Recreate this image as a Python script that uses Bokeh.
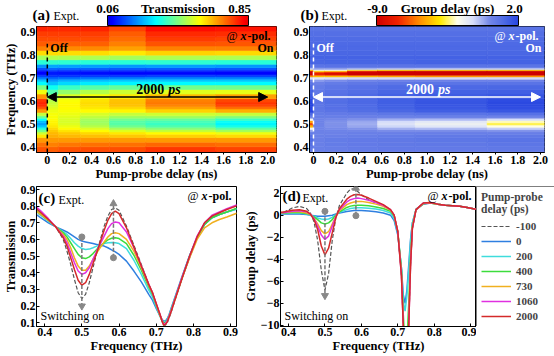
import numpy as np
from bokeh.plotting import figure
from bokeh.models import (ColumnDataSource, LinearColorMapper, Label, Arrow,
                          NormalHead, FixedTicker, Legend, LegendItem, Range1d)
from bokeh.layouts import column, row
from bokeh.embed import file_html
from bokeh.resources import INLINE

# ---------------- data ----------------
FREQ = [0.37, 0.39, 0.41, 0.43, 0.45, 0.46, 0.47, 0.48, 0.49, 0.50, 0.51, 0.52, 0.53, 0.54,
        0.56, 0.57, 0.58, 0.59, 0.60, 0.62, 0.64, 0.66, 0.68, 0.69, 0.70, 0.71, 0.715, 0.72,
        0.725, 0.73, 0.735, 0.74, 0.75, 0.77, 0.79, 0.81, 0.83, 0.85, 0.87, 0.89, 0.92]

DELAYS_PS = [-100, 0, 200, 400, 730, 1060, 2000]
DELAY_LABELS = ["-100", "0", "200", "400", "730", "1060", "2000"]

# Transmission spectra (panel c / heatmap a)
T_M100 = [0.77, 0.745, 0.715, 0.675, 0.60, 0.53, 0.45, 0.36, 0.28, 0.245, 0.27, 0.34, 0.43, 0.52,
          0.68, 0.74, 0.78, 0.79, 0.775, 0.68, 0.565, 0.45, 0.33, 0.28, 0.21, 0.15, 0.11, 0.085,
          0.085, 0.10, 0.13, 0.16, 0.23, 0.37, 0.49, 0.61, 0.70, 0.735, 0.75, 0.765, 0.79]
T_0 = [0.76, 0.73, 0.70, 0.675, 0.655, 0.645, 0.63, 0.615, 0.60, 0.59, 0.585, 0.58, 0.575, 0.57,
       0.56, 0.55, 0.537, 0.525, 0.51, 0.47, 0.41, 0.345, 0.27, 0.235, 0.185, 0.14, 0.12, 0.11,
       0.11, 0.125, 0.15, 0.185, 0.25, 0.38, 0.505, 0.61, 0.69, 0.73, 0.75, 0.765, 0.785]
T_200 = [0.78, 0.745, 0.71, 0.675, 0.645, 0.63, 0.605, 0.58, 0.56, 0.545, 0.54, 0.542, 0.55, 0.56,
         0.575, 0.58, 0.582, 0.58, 0.575, 0.545, 0.475, 0.39, 0.295, 0.255, 0.195, 0.14, 0.12, 0.105,
         0.105, 0.12, 0.145, 0.18, 0.245, 0.375, 0.50, 0.61, 0.69, 0.73, 0.75, 0.765, 0.785]
T_400 = [0.79, 0.75, 0.715, 0.675, 0.64, 0.615, 0.58, 0.545, 0.51, 0.49, 0.485, 0.495, 0.515, 0.54,
         0.58, 0.597, 0.607, 0.61, 0.605, 0.575, 0.505, 0.415, 0.315, 0.27, 0.205, 0.145, 0.12, 0.10,
         0.10, 0.115, 0.14, 0.175, 0.24, 0.37, 0.50, 0.61, 0.69, 0.73, 0.75, 0.765, 0.79]
T_730 = [0.78, 0.75, 0.715, 0.675, 0.63, 0.60, 0.55, 0.49, 0.44, 0.415, 0.415, 0.44, 0.48, 0.52,
         0.585, 0.615, 0.635, 0.64, 0.635, 0.60, 0.53, 0.43, 0.325, 0.28, 0.21, 0.145, 0.115, 0.09,
         0.095, 0.11, 0.14, 0.17, 0.235, 0.37, 0.49, 0.60, 0.67, 0.70, 0.72, 0.735, 0.76]
T_1060 = [0.81, 0.77, 0.725, 0.675, 0.62, 0.58, 0.52, 0.46, 0.41, 0.39, 0.40, 0.43, 0.48, 0.53,
          0.62, 0.665, 0.695, 0.705, 0.70, 0.645, 0.55, 0.44, 0.33, 0.28, 0.215, 0.15, 0.12, 0.09,
          0.095, 0.11, 0.14, 0.17, 0.24, 0.375, 0.50, 0.62, 0.70, 0.745, 0.765, 0.785, 0.81]
T_2000 = [0.80, 0.76, 0.72, 0.675, 0.61, 0.56, 0.49, 0.42, 0.355, 0.325, 0.34, 0.39, 0.455, 0.52,
          0.655, 0.715, 0.755, 0.77, 0.755, 0.67, 0.555, 0.44, 0.33, 0.28, 0.215, 0.15, 0.115, 0.085,
          0.09, 0.105, 0.135, 0.165, 0.235, 0.37, 0.50, 0.615, 0.70, 0.74, 0.76, 0.78, 0.805]

# Group delay spectra (panel d / heatmap b), ps
GD_M100 = [0.2, 0.3, 0.65, 0.8, 0.6, 0.2, -0.6, -2.3, -5.0, -6.8, -5.3, -2.3, -0.2, 0.9,
           2.0, 2.35, 2.4, 2.15, 1.85, 1.4, 1.1, 0.85, 0.45, 0.0, -1.5, -5.5, -10.0, -14.0,
           -14.0, -10.0, -4.5, -1.2, 0.5, 1.1, 1.15, 1.0, 0.9, 0.85, 0.8, 0.7, 0.5]
GD_0 = [0.1, 0.1, 0.1, 0.1, 0.05, 0.0, -0.05, -0.1, -0.1, -0.1, -0.05, 0.0, 0.1, 0.2,
        0.33, 0.38, 0.42, 0.43, 0.42, 0.38, 0.3, 0.2, 0.0, -0.5, -1.8, -4.8, -7.2, -8.0,
        -6.8, -4.5, -2.2, -0.7, 0.5, 1.0, 1.1, 1.0, 0.9, 0.85, 0.8, 0.7, 0.5]
GD_200 = [0.15, 0.15, 0.2, 0.2, 0.1, 0.0, -0.1, -0.25, -0.35, -0.4, -0.35, -0.2, 0.05, 0.25,
          0.5, 0.6, 0.65, 0.67, 0.67, 0.62, 0.55, 0.42, 0.2, -0.3, -1.6, -4.8, -7.8, -8.7,
          -7.3, -5.0, -2.4, -0.7, 0.55, 1.05, 1.1, 1.0, 0.9, 0.85, 0.8, 0.7, 0.5]
GD_400 = [0.15, 0.2, 0.25, 0.25, 0.15, 0.05, -0.15, -0.4, -0.7, -0.8, -0.7, -0.4, 0.0, 0.3,
          0.7, 0.82, 0.88, 0.9, 0.9, 0.85, 0.75, 0.6, 0.35, -0.1, -1.5, -5.0, -9.0, -12.0,
          -11.5, -8.0, -3.8, -1.0, 0.5, 1.05, 1.1, 1.0, 0.9, 0.85, 0.8, 0.7, 0.5]
GD_730 = [0.2, 0.25, 0.3, 0.3, 0.2, 0.05, -0.3, -0.8, -1.4, -1.7, -1.5, -0.8, -0.1, 0.4,
          0.95, 1.1, 1.2, 1.25, 1.25, 1.15, 1.0, 0.8, 0.45, 0.0, -1.5, -5.3, -9.8, -13.5,
          -13.5, -9.5, -4.3, -1.1, 0.5, 1.05, 1.1, 1.0, 0.9, 0.85, 0.8, 0.7, 0.5]
GD_1060 = [0.2, 0.25, 0.35, 0.4, 0.3, 0.1, -0.3, -1.0, -1.8, -2.2, -1.9, -1.0, -0.1, 0.5,
           1.2, 1.4, 1.5, 1.55, 1.5, 1.35, 1.15, 0.9, 0.5, 0.0, -1.5, -5.5, -10.0, -14.0,
           -14.0, -10.0, -4.5, -1.2, 0.5, 1.1, 1.15, 1.0, 0.9, 0.85, 0.8, 0.7, 0.5]
GD_2000 = [0.2, 0.3, 0.45, 0.5, 0.35, 0.1, -0.4, -1.3, -2.8, -3.6, -3.0, -1.6, -0.2, 0.6,
           1.45, 1.7, 1.85, 1.87, 1.8, 1.55, 1.25, 0.95, 0.5, 0.0, -1.5, -5.5, -10.0, -14.0,
           -14.0, -10.0, -4.5, -1.2, 0.5, 1.1, 1.15, 1.0, 0.9, 0.85, 0.8, 0.7, 0.5]

T_SERIES = [T_M100, T_0, T_200, T_400, T_730, T_1060, T_2000]
GD_SERIES = [GD_M100, GD_0, GD_200, GD_400, GD_730, GD_1060, GD_2000]

# switching-on markers
SWITCH_F = [0.50, 0.585]
C_FROM = [0.615, 0.49]
C_TO = [0.20, 0.815]
D_FROM = [0.35, -0.05]
D_TO = [-7.3, 2.45]

DELAY_TICKS = [0, 0.2, 0.4, 0.6, 0.8, 1.0, 1.2, 1.4, 1.6, 1.8, 2.0]
DELAY_TICK_LABELS = ["0", "0.2", "0.4", "0.6", "0.8", "1.0", "1.2", "1.4", "1.6", "1.8", "2.0"]
FREQ_TICKS = [0.4, 0.5, 0.6, 0.7, 0.8, 0.9]
T_TICKS = [0.1, 0.2, 0.3, 0.4, 0.5, 0.6, 0.7, 0.8, 0.9]
GD_TICKS = [2, 0, -2, -4, -6, -8, -10]
T_LIMITS = [0.06, 0.85]
GD_LIMITS = [-9.0, 2.0]

# ---------------- styles ----------------
SERIF = "Liberation Serif"
LINE_COLORS = ["#555555", "#2f7fe0", "#3fdcdc", "#3cdc3c", "#f0b020", "#e030e0", "#d42a2a"]


def jet_palette(n=256, lo=0.1, hi=0.9):
    out = []
    for i in range(n):
        t = lo + (hi - lo) * i / (n - 1)
        r = min(max(1.5 - abs(4 * t - 3), 0), 1)
        g = min(max(1.5 - abs(4 * t - 2), 0), 1)
        b = min(max(1.5 - abs(4 * t - 1), 0), 1)
        out.append("#%02x%02x%02x" % (int(r * 255), int(g * 255), int(b * 255)))
    return out


def anchor_palette(anchors, n=256):
    ts = [a[0] for a in anchors]
    out = []
    for i in range(n):
        t = i / (n - 1)
        rgb = [np.interp(t, ts, [a[1][k] for a in anchors]) for k in range(3)]
        out.append("#%02x%02x%02x" % tuple(int(round(c)) for c in rgb))
    return out


JET = jet_palette()
GD_PAL = anchor_palette([(0.0, (205, 0, 0)), (0.15, (240, 35, 0)), (0.3, (255, 140, 0)),
                         (0.45, (255, 235, 0)), (0.57, (255, 255, 235)), (0.68, (215, 222, 250)),
                         (0.80, (115, 135, 232)), (0.92, (70, 100, 228)), (1.0, (40, 70, 225))])

FY = (0.375, 0.925)  # heatmap frequency window
HEAD_H, HEAT_H, LINE_H = 26, 157, 173


def fig(**kw):
    return figure(output_backend="svg", toolbar_location=None, title=None, **kw)


def heat_source(series, delays_ps, freqs):
    d = [x / 1000.0 for x in delays_ps]
    d_edges = [d[0] - 0.3, d[1]] + [(d[k] + d[k + 1]) / 2 for k in range(1, len(d) - 1)] + [d[-1] + 0.3]
    f_edges = [freqs[0] - 0.005] + [(freqs[i] + freqs[i + 1]) / 2 for i in range(len(freqs) - 1)] + [FY[1]]
    l, r, b, t, v = [], [], [], [], []
    for j, s in enumerate(series):
        for i, val in enumerate(s):
            l.append(d_edges[j]); r.append(d_edges[j + 1])
            b.append(f_edges[i]); t.append(f_edges[i + 1]); v.append(val)
    return ColumnDataSource(dict(left=l, right=r, bottom=b, top=t, v=v))


def style_axes(p, tick_in=0, tick_out=3):
    for ax in p.axis:
        ax.major_label_text_font = SERIF
        ax.major_label_text_font_style = "bold"
        ax.major_label_text_font_size = "12px"
        ax.major_label_text_color = "black"
        ax.axis_label_text_font = SERIF
        ax.axis_label_text_font_style = "bold"
        ax.axis_label_text_font_size = "12.5px"
        ax.axis_label_text_color = "black"
        ax.axis_label_standoff = 0
        ax.major_label_standoff = 1
        ax.major_tick_in = tick_in
        ax.major_tick_out = tick_out
        ax.minor_tick_line_color = None
        ax.axis_line_color = "black"
        ax.major_tick_line_color = "black"
    p.outline_line_color = "black"
    p.outline_line_width = 1
    p.xgrid.visible = False
    p.ygrid.visible = False


def lab(p, x, y, text, size="12px", style="normal", color="black", align="left", xoff=0, yoff=0):
    # all texts are placed by their vertical middle
    p.add_layout(Label(x=x, y=y, text=text, text_font=SERIF, x_offset=xoff, y_offset=yoff,
                       text_font_size=size, text_font_style=style, text_color=color,
                       text_align=align, text_baseline="middle"))


def xpol(p, x, y, color, xoff, yoff):
    lab(p, x, y, "-pol.", style="bold", color=color, align="right", xoff=xoff, yoff=yoff)
    lab(p, x, y, "x", style="bold italic", color=color, align="right", xoff=xoff - 24, yoff=yoff)
    lab(p, x, y, "@", style="normal", color=color, align="right", xoff=xoff - 33, yoff=yoff)


def header(mapper, tag, tag_x, bar_x, bar_w, lo_x, lo_txt, title_txt, hi_x, hi_txt):
    # header strip: x in pixels from left, y in pixels from bottom
    h = fig(width=277, height=HEAD_H, x_range=Range1d(0, 277), y_range=Range1d(0, HEAD_H),
            x_axis_location=None, y_axis_location=None,
            min_border_left=0, min_border_right=0, min_border_top=0, min_border_bottom=0)
    h.outline_line_color = None
    h.xgrid.visible = False
    h.ygrid.visible = False
    grad = np.linspace(mapper.low, mapper.high, 256).reshape(1, 256)
    h.image(image=[grad], x=bar_x, y=1, dw=bar_w, dh=10, color_mapper=mapper)
    h.quad(left=[bar_x], right=[bar_x + bar_w], bottom=[1], top=[11], fill_color=None,
           line_color="black", line_width=1)
    lab(h, tag_x, 12, tag, size="15px", style="bold")
    lab(h, tag_x + 21, 11, "Expt.", size="12px")
    lab(h, lo_x, 18, lo_txt, size="13px", style="bold", align="center")
    lab(h, bar_x + bar_w / 2, 18, title_txt, size="13px", style="bold", align="center")
    lab(h, hi_x, 18, hi_txt, size="13px", style="bold", align="center")
    return h


def heat_panel(series, mapper, xr, left_border, right_border, ylabel, fg):
    p = fig(width=277, height=HEAT_H, x_range=Range1d(*xr), y_range=Range1d(*FY),
            min_border_left=left_border, min_border_right=right_border,
            min_border_top=0, min_border_bottom=30)
    src = heat_source(series, DELAYS_PS, FREQ)
    p.quad(left="left", right="right", bottom="bottom", top="top", source=src,
           fill_color={"field": "v", "transform": mapper},
           line_color={"field": "v", "transform": mapper}, line_width=0.6)
    p.xaxis.axis_label = "Pump-probe delay (ns)"
    if ylabel:
        p.yaxis.axis_label = ylabel
    p.xaxis.ticker = FixedTicker(ticks=DELAY_TICKS)
    p.xaxis.major_label_overrides = {t: s for t, s in zip(DELAY_TICKS, DELAY_TICK_LABELS)}
    p.yaxis.ticker = FixedTicker(ticks=FREQ_TICKS)
    style_axes(p, tick_in=0, tick_out=2)
    p.yaxis.major_tick_out = 0
    # dashed start line, labels, arrow
    p.segment(x0=[DELAY_TICKS[0]], y0=[FY[0]], x1=[DELAY_TICKS[0]], y1=[0.85],
              line_color=fg, line_dash="4 3", line_width=1.5)
    lab(p, DELAY_TICKS[0], 0.83, "Off", style="bold", color=fg, xoff=3)
    lab(p, xr[1], 0.83, "On", style="bold", color=fg, align="right", xoff=-3)
    p.add_layout(Arrow(x_start=DELAY_TICKS[0], y_start=0.617, x_end=DELAY_TICKS[-1], y_end=0.617,
                       start=NormalHead(size=9, fill_color=fg, line_color=fg),
                       end=NormalHead(size=9, fill_color=fg, line_color=fg),
                       line_color=fg, line_width=1.5))
    lab(p, 1.07, 0.652, "2000", size="14px", style="bold", color=fg, align="right", xoff=-1)
    lab(p, 1.07, 0.652, "ps", size="14px", style="bold italic", color=fg, align="left", xoff=3)
    xpol(p, xr[1], FY[1], fg, -6, -9)
    return p


mapper_t = LinearColorMapper(palette=JET, low=T_LIMITS[0], high=T_LIMITS[1])
mapper_g = LinearColorMapper(palette=GD_PAL, low=GD_LIMITS[0], high=GD_LIMITS[1])

ha = header(mapper_t, "(a)", 32, 107, 141, 107, "0.06", "Transmission", 239, "0.85")
hb = header(mapper_g, "(b)", 23, 99, 142, 100, "-9.0", "Group delay (ps)", 237, "2.0")

pa = heat_panel(T_SERIES, mapper_t, (-0.098, 2.08), 32, 1, "Frequency (THz)", "black")
pb = heat_panel(GD_SERIES, mapper_g, (-0.035, 2.035), 32, 10, None, "white")


def line_panel(series, width, left_border, right_border, yr, yticks, ylabel, mark_from, mark_to,
               tag, tag_dy):
    xr = (0.378, 0.916)
    p = fig(width=width, height=LINE_H, x_range=Range1d(*xr), y_range=Range1d(*yr),
            min_border_left=left_border, min_border_right=right_border,
            min_border_top=3, min_border_bottom=30)
    for k, s in enumerate(series):
        if k == 0:
            p.line(FREQ, s, line_color=LINE_COLORS[k], line_width=1.2, line_dash="4 2")
        else:
            p.line(FREQ, s, line_color=LINE_COLORS[k], line_width=1.5)
    p.segment(x0=SWITCH_F, y0=mark_from, x1=SWITCH_F, y1=mark_to, line_color="#777777",
              line_dash="4 2", line_width=1.5)
    p.scatter(SWITCH_F, mark_from, marker="circle", size=6, color="#888888")
    msrc = ColumnDataSource(dict(x=SWITCH_F, y=mark_to, m=["inverted_triangle", "triangle"]))
    p.scatter("x", "y", marker="m", size=7, color="#888888", source=msrc)
    p.xaxis.axis_label = "Frequency (THz)"
    p.yaxis.axis_label = ylabel
    p.xaxis.ticker = FixedTicker(ticks=FREQ_TICKS)
    p.yaxis.ticker = FixedTicker(ticks=yticks)
    style_axes(p, tick_in=3, tick_out=0)
    lab(p, xr[0], yr[1], tag, size="15px", style="bold", xoff=2, yoff=-tag_dy)
    lab(p, xr[0], yr[1], "Expt.", size="12px", xoff=22, yoff=-tag_dy - 2)
    xpol(p, xr[1], yr[1], "black", -5, -9)
    lab(p, xr[0], yr[0], "Switching on", size="12px", xoff=4, yoff=11)
    return p


pc = line_panel(T_SERIES, 240, 33, 4, (0.077, 0.918), T_TICKS, "Transmission", C_FROM, C_TO,
                "(c)", 11)
pd = line_panel(GD_SERIES, 236, 36, 0, (-10.1, 2.6), GD_TICKS, "Group delay (ps)",
                D_FROM, D_TO, "(d)", 9)

# legend panel (series drawn outside its view range; only the legend is visible)
pl = fig(width=78, height=LINE_H, x_range=Range1d(10, 11), y_range=Range1d(10, 11),
         x_axis_location=None, y_axis_location=None,
         min_border_left=0, min_border_right=0, min_border_top=2, min_border_bottom=0)
pl.outline_line_color = None
pl.xgrid.visible = False
pl.ygrid.visible = False
leg_r = []
for k, s in enumerate(GD_SERIES):
    if k == 0:
        leg_r.append(pl.line(FREQ, s, line_color=LINE_COLORS[k], line_width=1.2, line_dash="4 2"))
    else:
        leg_r.append(pl.line(FREQ, s, line_color=LINE_COLORS[k], line_width=1.5))
legend = Legend(items=[LegendItem(label=lbl, renderers=[r]) for lbl, r in zip(DELAY_LABELS, leg_r)],
                location="top_left", title="Pump-probe\ndelay (ps)",
                title_text_font=SERIF, title_text_font_style="bold", title_text_font_size="11.5px",
                title_standoff=5, label_text_font=SERIF, label_text_font_style="bold",
                label_text_font_size="11px", glyph_width=30, glyph_height=12, label_height=12,
                label_width=34, label_standoff=5, spacing=3, padding=4, margin=0,
                border_line_color="black", border_line_width=1, background_fill_color="white")
pl.add_layout(legend, "center")

layout = column(row(ha, hb), row(pa, pb), row(pc, pd, pl))
open("out.html", "w").write(file_html(layout, INLINE))
